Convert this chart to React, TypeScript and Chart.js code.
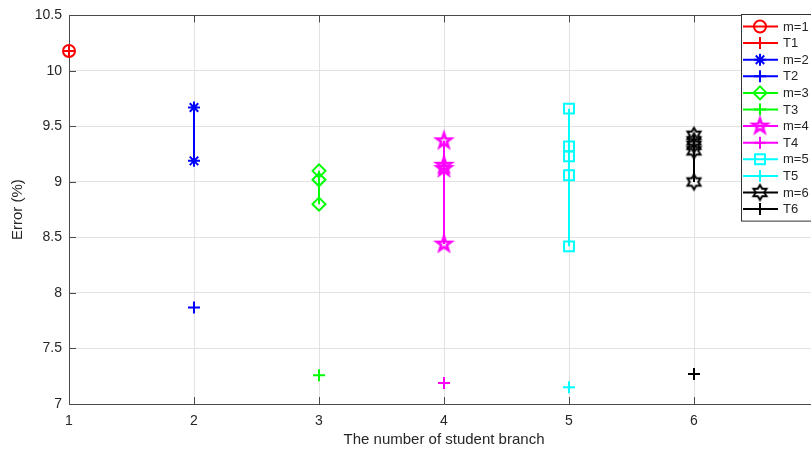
import React, { useEffect, useRef } from 'react';
import { Chart, registerables } from 'chart.js';
import { drawPoint } from 'chart.js/helpers';

Chart.register(...registerables);

// ---- data ----
const branchCounts = [1, 2, 3, 4, 5, 6];
const m1Errors = [10.18];
const m2Errors = [9.67, 9.19];
const m3Errors = [9.10, 9.02, 8.80];
const m4Errors = [9.37, 9.15, 9.12, 8.44];
const m5Errors = [9.66, 9.32, 9.23, 9.06, 8.42];
const m6Errors = [9.42, 9.37, 9.33, 9.28, 9.00];
const teacherErrors = [10.18, 7.87, 7.26, 7.19, 7.15, 7.27];
const studentLabels = ['m=1', 'm=2', 'm=3', 'm=4', 'm=5', 'm=6'];
const teacherLabels = ['T1', 'T2', 'T3', 'T4', 'T5', 'T6'];
const seriesColors = ['#ff0000', '#0000ff', '#00ff00', '#ff00ff', '#00ffff', '#000000'];
const xTickValues = [1, 2, 3, 4, 5, 6, 7];
const yTickValues = [7, 7.5, 8, 8.5, 9, 9.5, 10, 10.5];

const TEXT = '#262626';
const AXIS = '#4a4a4a';
const FONT = "'Liberation Sans', Arial, Helvetica, sans-serif";

function makeStarCanvas(points: number, outer: number, inner: number, color: string, lw: number) {
  const size = Math.ceil(2 * (outer + lw) + 2);
  const c = document.createElement('canvas');
  c.width = size;
  c.height = size;
  const ctx = c.getContext('2d')!;
  const cx = size / 2;
  const cy = size / 2;
  ctx.beginPath();
  for (let i = 0; i < points * 2; i++) {
    const r = i % 2 === 0 ? outer : inner;
    const a = -Math.PI / 2 + (i * Math.PI) / points;
    const x = cx + r * Math.cos(a);
    const y = cy + r * Math.sin(a);
    if (i === 0) ctx.moveTo(x, y);
    else ctx.lineTo(x, y);
  }
  ctx.closePath();
  ctx.strokeStyle = color;
  ctx.lineWidth = lw;
  ctx.lineJoin = 'miter';
  ctx.stroke();
  return c;
}

const inwardTicksPlugin = {
  id: 'inwardTicks',
  afterDatasetsDraw(chart: any) {
    const { ctx, chartArea } = chart;
    const xs = chart.scales.x;
    const ys = chart.scales.y;
    ctx.save();
    ctx.strokeStyle = AXIS;
    ctx.lineWidth = 1;
    ctx.beginPath();
    ctx.moveTo(chartArea.left, Math.round(chartArea.top) + 0.5);
    ctx.lineTo(chartArea.right, Math.round(chartArea.top) + 0.5);
    const tl = 7;
    xTickValues.forEach((v) => {
      const px = Math.round(xs.getPixelForValue(v)) + 0.5;
      ctx.moveTo(px, chartArea.bottom);
      ctx.lineTo(px, chartArea.bottom - tl);
      ctx.moveTo(px, chartArea.top);
      ctx.lineTo(px, chartArea.top + tl);
    });
    yTickValues.forEach((v) => {
      const py = Math.round(ys.getPixelForValue(v)) + 0.5;
      ctx.moveTo(chartArea.left, py);
      ctx.lineTo(chartArea.left + tl, py);
    });
    ctx.stroke();
    ctx.restore();
  },
};

const legendPlugin = {
  id: 'matlabLegend',
  afterDraw(chart: any) {
    const { ctx } = chart;
    const datasets = chart.data.datasets;
    const boxX = 741.5;
    const boxY = 14.5;
    const firstY = 26.5;
    const step = 16.6;
    const boxH = (datasets.length - 1) * step + 24;
    ctx.save();
    ctx.fillStyle = '#ffffff';
    ctx.fillRect(boxX, boxY, 120, boxH);
    ctx.strokeStyle = '#333333';
    ctx.lineWidth = 1;
    ctx.strokeRect(boxX, boxY, 120, boxH);
    datasets.forEach((ds: any, i: number) => {
      const y = firstY + i * step;
      ctx.strokeStyle = ds.borderColor;
      ctx.lineWidth = 2;
      ctx.beginPath();
      ctx.moveTo(743, y);
      ctx.lineTo(778, y);
      ctx.stroke();
      ctx.fillStyle = ds.pointBackgroundColor || 'rgba(0,0,0,0)';
      ctx.strokeStyle = ds.pointBorderColor;
      ctx.lineWidth = ds.pointBorderWidth;
      drawPoint(ctx, { pointStyle: ds.pointStyle, radius: ds.pointRadius, borderWidth: ds.pointBorderWidth, rotation: 0 } as any, 760, y);
      ctx.fillStyle = TEXT;
      ctx.font = `13px ${FONT}`;
      ctx.textBaseline = 'middle';
      ctx.textAlign = 'left';
      ctx.fillText(ds.label, 783, y + 0.5);
    });
    ctx.restore();
  },
};

export default function App() {
  const canvasRef = useRef<HTMLCanvasElement | null>(null);

  useEffect(() => {
    const canvas = canvasRef.current;
    if (!canvas) return;

    const pentagram = makeStarCanvas(5, 7.5, 3.0, seriesColors[3], 2.6);
    const hexagram = makeStarCanvas(6, 7.5, 4.3, seriesColors[5], 2);

    const studentSeries = [m1Errors, m2Errors, m3Errors, m4Errors, m5Errors, m6Errors];
    const studentStyles: any[] = [
      { pointStyle: 'circle', pointRadius: 6 },
      { pointStyle: 'star', pointRadius: 6 },
      { pointStyle: 'rectRot', pointRadius: 6.5 },
      { pointStyle: pentagram, pointRadius: 8 },
      { pointStyle: 'rect', pointRadius: 7 },
      { pointStyle: hexagram, pointRadius: 8 },
    ];

    const datasets: any[] = [];
    branchCounts.forEach((b, i) => {
      const color = seriesColors[i];
      datasets.push({
        label: studentLabels[i],
        data: studentSeries[i].map((v) => ({ x: b, y: v })),
        showLine: true,
        borderColor: color,
        borderWidth: 2,
        backgroundColor: 'rgba(0,0,0,0)',
        pointBackgroundColor: 'rgba(0,0,0,0)',
        pointBorderColor: color,
        pointBorderWidth: 2,
        pointStyle: studentStyles[i].pointStyle,
        pointRadius: studentStyles[i].pointRadius,
        order: 12 - 2 * i,
      });
      datasets.push({
        label: teacherLabels[i],
        data: [{ x: b, y: teacherErrors[i] }],
        showLine: false,
        borderColor: color,
        borderWidth: 2,
        backgroundColor: 'rgba(0,0,0,0)',
        pointBackgroundColor: 'rgba(0,0,0,0)',
        pointBorderColor: color,
        pointBorderWidth: 2,
        pointStyle: 'cross',
        pointRadius: 6,
        order: 11 - 2 * i,
      });
    });

    const chart = new Chart(canvas, {
      type: 'scatter',
      data: { datasets },
      options: {
        responsive: false,
        animation: false,
        events: [],
        clip: false as any,
        layout: { padding: { left: 0, top: 13, right: 21, bottom: 0 } },
        plugins: {
          legend: { display: false },
          tooltip: { enabled: false },
        },
        scales: {
          x: {
            type: 'linear',
            min: 1,
            max: 7,
            afterFit: (s: any) => { s.height = 46; },
            afterBuildTicks: (s: any) => { s.ticks = xTickValues.map((v) => ({ value: v })); },
            ticks: {
              color: TEXT,
              font: { family: FONT, size: 14 },
              padding: 9,
              maxRotation: 0,
              callback: (v: any) => (v === 7 ? '' : String(v)),
            },
            grid: { color: '#e2e2e2', lineWidth: 1, drawTicks: false },
            border: { display: true, color: AXIS, width: 1 },
            title: {
              display: true,
              text: 'The number of student branch',
              color: TEXT,
              font: { family: FONT, size: 15 },
              padding: { top: 0, bottom: 1 },
            },
          },
          y: {
            type: 'linear',
            min: 7,
            max: 10.5,
            afterFit: (s: any) => { s.width = 69; },
            afterBuildTicks: (s: any) => { s.ticks = yTickValues.map((v) => ({ value: v })); },
            ticks: {
              color: TEXT,
              font: { family: FONT, size: 14 },
              padding: 7,
              callback: (v: any) => String(v),
            },
            grid: { color: '#e2e2e2', lineWidth: 1, drawTicks: false },
            border: { display: true, color: AXIS, width: 1 },
            title: {
              display: true,
              text: 'Error (%)',
              color: TEXT,
              font: { family: FONT, size: 15 },
              padding: { top: 9, bottom: 0 },
            },
          },
        },
      },
      plugins: [inwardTicksPlugin, legendPlugin],
    });

    return () => chart.destroy();
  }, []);

  return (
    <div style={{ position: 'fixed', left: 0, top: 0, width: 811, height: 450, overflow: 'hidden', background: '#ffffff' }}>
      <canvas ref={canvasRef} width={840} height={450} style={{ display: 'block' }} />
    </div>
  );
}
